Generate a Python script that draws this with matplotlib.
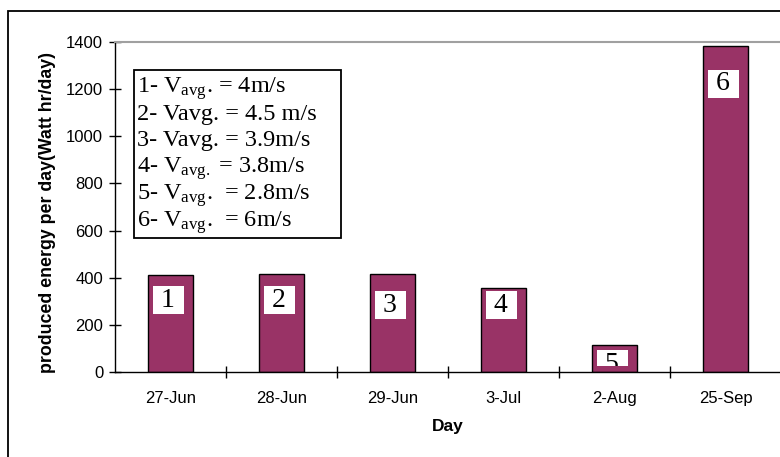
import matplotlib
matplotlib.use("Agg")
import matplotlib.pyplot as plt
from matplotlib.patches import Rectangle

plt.rcParams["font.family"] = ["Liberation Sans", "DejaVu Sans"]
plt.rcParams["mathtext.fontset"] = "custom"
plt.rcParams["mathtext.rm"] = "Liberation Serif"
plt.rcParams["mathtext.it"] = "Liberation Serif:italic"

# data
days = ["27-Jun", "28-Jun", "29-Jun", "3-Jul", "2-Aug", "25-Sep"]
energy = [410, 415, 415, 355, 113, 1382]
bar_tags = ["1", "2", "3", "4", "5", "6"]
tag_levels = [305, 305, 284, 284, 33, 1222]
wind_notes = [
    r"1- V$_{\mathrm{avg}}$. = 4m/s",
    "2- Vavg. = 4.5 m/s",
    "3- Vavg. = 3.9m/s",
    r"4- V$_{\mathrm{avg.}}$ = 3.8m/s",
    r"5- V$_{\mathrm{avg}}$.  = 2.8m/s",
    r"6- V$_{\mathrm{avg}}$.  = 6m/s",
]

W, H = 780, 457
fig = plt.figure(figsize=(W / 100, H / 100), dpi=100)

# outer chart frame
fig.patches.append(Rectangle((8 / W, -0.05), 1.1, 1 - 11 / H + 0.05,
                             transform=fig.transFigure, fill=False,
                             edgecolor="black", linewidth=1.3))

ax = fig.add_axes([115 / W, 85 / H, 666 / W, 330 / H])
x = list(range(len(days)))
bars = ax.bar(x, energy, width=0.4, color="#993366", edgecolor="black",
              linewidth=1.0, zorder=2)

ax.set_xlim(-0.5, len(days) - 0.5)
ax.set_ylim(0, 1400)
ax.set_yticks(range(0, 1401, 200))
ax.set_xticks([i + 0.5 for i in x[:-1]])
ax.set_xticklabels([])
ax.set_xticks(x, minor=True)
ax.set_xticklabels(days, minor=True)
ax.tick_params(axis="x", which="major", direction="inout", length=9, width=1)
ax.tick_params(axis="x", which="minor", length=0, pad=14, labelsize=12)
ax.tick_params(axis="y", direction="inout", length=9, width=1, labelsize=12,
               pad=4)

for side in ["left", "bottom"]:
    ax.spines[side].set_linewidth(1.0)
ax.spines["top"].set_color("#a0a0a0")
ax.spines["top"].set_linewidth(1.5)
ax.spines["right"].set_visible(False)

ax.set_xlabel("Day", fontsize=12.5, fontweight="bold", labelpad=9)
ax.set_ylabel("produced energy per day(Watt hr/day)", fontsize=12.8,
              fontweight="bold", labelpad=7)
ax.yaxis.label.set_y(0.483)

# number tags inside the bars (the 5th one is cut off near the axis)
clip = Rectangle((-0.5, 25), len(days), 2000, transform=ax.transData)
for xi, tag, lvl in zip(x, bar_tags, tag_levels):
    t = ax.text(xi - 0.02, lvl, " " + tag + " ", ha="center", va="center",
                fontsize=20, family="Liberation Serif", zorder=3,
                bbox=dict(boxstyle="square,pad=0.05", facecolor="white",
                          edgecolor="none"))
    t.set_clip_path(clip)
    t.set_clip_on(True)

# wind speed note box
bx0, by0, bx1, by1 = 134, 70, 341, 238
ax.add_patch(Rectangle((bx0 / W, 1 - by1 / H), (bx1 - bx0) / W,
                       (by1 - by0) / H, transform=fig.transFigure,
                       facecolor="white", edgecolor="black", linewidth=1.3,
                       zorder=4))
for i, note in enumerate(wind_notes):
    base = 93 + 26.7 * i
    fig.text(137 / W, 1 - base / H, note, ha="left", va="baseline",
             fontsize=17.5, family="Liberation Serif", zorder=5)

fig.savefig("out.png", dpi=100)
